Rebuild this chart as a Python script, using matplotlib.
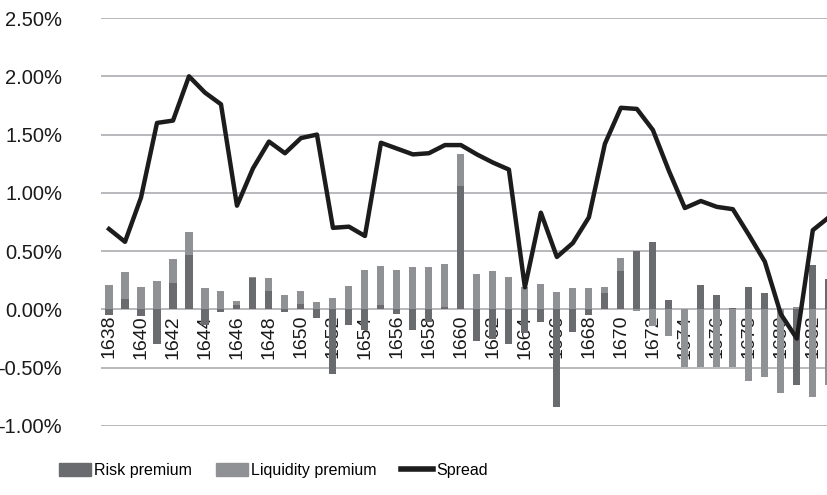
import numpy as np
import matplotlib
matplotlib.use("Agg")
import matplotlib.pyplot as plt
from matplotlib.patches import Patch
from matplotlib.lines import Line2D
from matplotlib.ticker import FuncFormatter

plt.rcParams['font.family'] = ['Liberation Sans', 'DejaVu Sans']

# --- dados (em %) ---
anos = list(range(1638, 1684))

risk_premium = [-0.05, 0.09, -0.06, -0.30, 0.23, 0.47, -0.13, -0.02, 0.04, 0.27,
                0.16, -0.02, 0.05, -0.07, -0.55, -0.13, -0.18, 0.04, -0.04, -0.18,
                -0.11, 0.02, 1.06, -0.27, -0.25, -0.30, -0.20, -0.11, -0.84, -0.19,
                -0.05, 0.14, 0.33, 0.50, 0.58, 0.08, 0.00, 0.21, 0.12, 0.01,
                0.19, 0.14, 0.00, -0.65, 0.38, 0.26]

liquidity_premium = [0.21, 0.23, 0.19, 0.24, 0.20, 0.19, 0.18, 0.16, 0.03, 0.01,
                     0.11, 0.12, 0.11, 0.06, 0.10, 0.20, 0.34, 0.33, 0.34, 0.36,
                     0.36, 0.37, 0.27, 0.30, 0.33, 0.28, 0.19, 0.22, 0.15, 0.18,
                     0.18, 0.05, 0.11, -0.01, -0.14, -0.23, -0.49, -0.49, -0.49, -0.49,
                     -0.61, -0.58, -0.72, 0.02, -0.75, -0.65]

spread = [0.69, 0.58, 0.96, 1.60, 1.62, 2.00, 1.86, 1.76, 0.89, 1.21,
          1.44, 1.34, 1.47, 1.50, 0.70, 0.71, 0.63, 1.43, 1.38, 1.33,
          1.34, 1.41, 1.41, 1.33, 1.26, 1.20, 0.19, 0.83, 0.45, 0.57,
          0.79, 1.42, 1.73, 1.72, 1.54, 1.19, 0.87, 0.93, 0.88, 0.86,
          0.64, 0.41, -0.04, -0.25, 0.68, 0.79]

cor_risk = '#6a6b6e'
cor_liq = '#909194'
cor_linha = '#1c1c1c'

x = np.array(anos)
r = np.array(risk_premium)
l = np.array(liquidity_premium)

# empilhamento estilo Excel: positivos para cima, negativos para baixo
pos_r = np.where(r > 0, r, 0)
neg_r = np.where(r < 0, r, 0)
base_l = np.where(l >= 0, pos_r, neg_r)

fig = plt.figure(figsize=(8.28, 4.95), dpi=100)
ax = fig.add_axes([0.122, 0.1394, 0.878, 0.8242])

ax.bar(x, r, width=0.44, color=cor_risk, zorder=2)
ax.bar(x, l, width=0.44, bottom=base_l, color=cor_liq, zorder=2)
ax.plot(x, spread, color=cor_linha, linewidth=3.2, zorder=3)

ax.set_ylim(-1.0, 2.5)
ax.set_yticks(np.arange(-1.0, 2.51, 0.5))
ax.yaxis.set_major_formatter(FuncFormatter(lambda v, p: f'{v:.2f}%'))
ax.set_xlim(1637.5, 1682.95)

ax.grid(axis='y', color='#b9b9bd', linewidth=1.4, zorder=0)
ax.set_axisbelow(True)
for s in ax.spines.values():
    s.set_visible(False)

# rotulos do eixo x junto da linha do zero
ax.spines['bottom'].set_position(('data', 0))
ax.set_xticks(anos[::2])
ax.set_xticklabels([str(a) for a in anos[::2]], rotation=90, va='top', ha='center')
ax.tick_params(axis='x', length=0, pad=4, labelsize=14, colors='#1a1a1a')
ax.tick_params(axis='y', length=0, pad=28, labelsize=14.5, colors='#1a1a1a')

handles = [Patch(color=cor_risk, label='Risk premium'),
           Patch(color=cor_liq, label='Liquidity premium'),
           Line2D([0], [0], color=cor_linha, linewidth=4, label='Spread')]
fig.legend(handles=handles, loc='center', bbox_to_anchor=(0.33, 0.05), ncol=3,
           frameon=False, fontsize=11.5, handlelength=2.0, handleheight=0.9,
           handletextpad=0.2, columnspacing=1.5)

fig.savefig('out.png', dpi=100)
